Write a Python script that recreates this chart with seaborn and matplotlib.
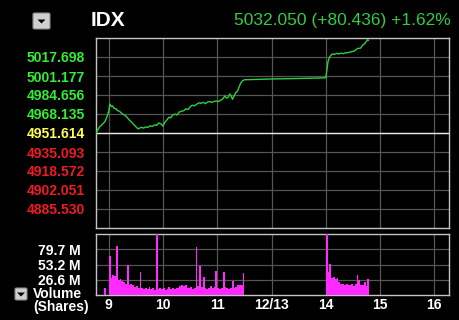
import matplotlib
matplotlib.use("Agg")
import matplotlib.pyplot as plt
import seaborn as sns
import pandas as pd
from matplotlib.patches import FancyBboxPatch, Polygon

# ---------------- data ----------------
title = "IDX"
quote_text = "5032.050 (+80.436) +1.62%"

x_tick_pos = [0, 1, 2, 3, 4, 5, 6]
x_tick_labels = ["9", "10", "11", "12/13", "14", "15", "16"]

price_tick_labels = ["5017.698", "5001.177", "4984.656", "4968.135", "4951.614",
                     "4935.093", "4918.572", "4902.051", "4885.530"]
prev_close = 4951.614

vol_tick_vals = [26.6, 53.2, 79.7]
vol_tick_labels = ["26.6 M", "53.2 M", "79.7 M"]

# time on compressed axis (hours; 0 = 9:00, 4 = 14:00)
price_t = [-0.235, -0.17, -0.11, -0.07, -0.03, 0.0, 0.02, 0.05, 0.07, 0.10, 0.13, 0.16,
           0.20, 0.24, 0.28, 0.33, 0.38, 0.44, 0.50, 0.54, 0.57, 0.61, 0.64, 0.68,
           0.72, 0.76, 0.80, 0.85, 0.88, 0.92, 0.96, 1.00, 1.03, 1.07, 1.11, 1.14,
           1.18, 1.22, 1.26, 1.30, 1.34, 1.38, 1.42, 1.46, 1.50, 1.54, 1.58, 1.62,
           1.66, 1.70, 1.74, 1.78, 1.82, 1.86, 1.90, 1.94, 1.98, 2.02, 2.06, 2.10,
           2.14, 2.17, 2.20, 2.23, 2.26, 2.28, 2.31, 2.34, 2.37, 2.40, 2.43, 2.46,
           2.49, 2.50, 3.00, 3.50, 4.00, 4.04, 4.07, 4.10, 4.12, 4.16, 4.20, 4.24,
           4.28, 4.32, 4.36, 4.40, 4.44, 4.48, 4.52, 4.56, 4.59, 4.63, 4.66, 4.68,
           4.71, 4.74, 4.76, 4.77, 4.785]
price_v = [4951.6, 4956.8, 4959.5, 4961.6, 4966.0, 4970.5, 4976.8, 4974.5, 4975.2, 4973.0, 4972.8, 4971.2,
           4970.4, 4968.6, 4967.6, 4965.6, 4962.8, 4960.2, 4957.0, 4955.2, 4955.9, 4956.6, 4955.8, 4956.9,
           4956.5, 4957.8, 4957.3, 4958.8, 4958.1, 4960.3, 4959.6, 4957.6, 4960.8, 4962.9, 4965.4, 4964.7,
           4967.4, 4968.0, 4967.3, 4969.9, 4970.6, 4971.0, 4972.6, 4972.0, 4974.4, 4975.8, 4975.2, 4976.6,
           4977.9, 4977.4, 4978.3, 4977.1, 4978.6, 4978.9, 4978.2, 4979.1, 4979.4, 4979.0, 4980.0, 4981.2,
           4983.8, 4982.0, 4982.6, 4985.5, 4983.4, 4980.9, 4983.9, 4986.7, 4987.8, 4991.5, 4994.9, 4996.8,
           4997.7, 4997.9, 4998.6, 4999.0, 4999.6, 5013.6, 5017.7, 5019.5, 5020.3, 5020.0, 5020.9, 5020.4,
           5021.0, 5020.6, 5021.3, 5021.4, 5021.9, 5022.5, 5022.8, 5024.2, 5025.3, 5025.1, 5026.6, 5028.1,
           5029.0, 5031.0, 5031.8, 5033.0, 5032.05]

# volume (millions of shares), 2-minute bars
preopen_t = [-0.087]
preopen_v = [11.8]
vol1_start = 0.0
vol1_v = [68, 30, 35, 33, 86, 26, 28, 24, 22, 20, 52, 18, 20, 17, 14, 16, 12, 41, 12, 10,
          13, 11, 14, 10, 12, 9, 108, 11, 13, 10, 12, 9, 11, 14, 10, 12, 11, 13, 12, 16,
          18, 15, 17, 13, 12, 14, 11, 13, 83, 15, 50, 14, 32, 12, 11, 13, 15, 12, 14, 42,
          13, 11, 12, 41, 14, 12, 11, 13, 25, 12, 14, 18, 17, 18, 38]
vol2_start = 4.0
vol2_v = [107, 40, 54, 30, 32, 28, 30, 22, 20, 19, 18, 20, 17, 18, 19, 16, 20, 35, 27, 18,
          17, 22, 16, 28]
bar_step = 1 / 30

# ---------------- style ----------------
sns.set_theme(style="dark")
plt.rcParams["font.family"] = ["Liberation Sans", "DejaVu Sans"]
BG = "black"
GRID = "#555555"
FRAME = "#c4c4c4"
LINE = "#2ecf3e"
MAG = "#ff2aff"

fig = plt.figure(figsize=(4.59, 3.2), dpi=100, facecolor=BG)
L, R = 96 / 459, 449 / 459
ax = fig.add_axes([L, 1 - 228 / 320, R - L, (228 - 38) / 320])
axv = fig.add_axes([L, 1 - 295 / 320, R - L, (295 - 234) / 320], sharex=ax)

for a in (ax, axv):
    a.set_facecolor(BG)
    for s in a.spines.values():
        s.set_color(FRAME)
        s.set_linewidth(1.0)
        s.set_visible(True)
    a.grid(True, color=GRID, linewidth=0.9)
    a.tick_params(length=0)

# price
df = pd.DataFrame({"t": price_t, "v": price_v})
sns.lineplot(data=df, x="t", y="v", ax=ax, color=LINE, linewidth=1.0, sort=False, zorder=3)
ax.axhline(prev_close, color="#e6e6e6", linewidth=1.0, zorder=2)
step = 16.521
ax.set_ylim(prev_close - 5 * step, prev_close + 5 * step)
ax.set_yticks([float(s) for s in price_tick_labels])
ax.set_yticklabels(price_tick_labels, fontsize=10, fontweight="bold")
ax.tick_params(axis="y", pad=8)
for lab, txt in zip(ax.get_yticklabels(), price_tick_labels):
    v = float(txt)
    if v > prev_close + 1e-6:
        lab.set_color("#33ee33")
    elif abs(v - prev_close) < 1e-6:
        lab.set_color("#ffff55")
    else:
        lab.set_color("#ee1b24")
ax.set_xlim(-0.235, 6.27)
ax.set_xticks(x_tick_pos)
ax.tick_params(axis="x", labelbottom=False)
ax.set_xlabel("")
ax.set_ylabel("")

# volume
t1 = [vol1_start + i * bar_step for i in range(len(vol1_v))]
t2 = [vol2_start + i * bar_step for i in range(len(vol2_v))]
axv.bar(preopen_t + t1 + t2, preopen_v + vol1_v + vol2_v, width=bar_step,
        align="edge", color=MAG, linewidth=0, zorder=3)
axv.set_ylim(0, 106.5)
axv.set_yticks(vol_tick_vals)
axv.set_yticklabels(vol_tick_labels, fontsize=10, fontweight="bold", color="white")
axv.tick_params(axis="y", pad=11)
axv.set_xticks(x_tick_pos)
axv.set_xticklabels(x_tick_labels, fontsize=10, fontweight="bold", color="white")
axv.tick_params(axis="x", pad=2)

# header
fig.text(91 / 459, 1 - 20 / 320, title, color="white", fontsize=15, fontweight="bold",
         ha="left", va="center")
fig.text(451 / 459, 1 - 20 / 320, quote_text, color="#33cc44", fontsize=12.5,
         ha="right", va="center")


def dropdown(x0, y0, w, h):
    fx, fy = x0 / 459, 1 - (y0 + h) / 320
    fw, fh = w / 459, h / 320
    fig.patches.append(FancyBboxPatch((fx, fy), fw, fh, boxstyle="round,pad=0,rounding_size=0.004",
                                      transform=fig.transFigure, facecolor="#cfcfcf",
                                      edgecolor="#8a8a8a", linewidth=0.8))
    cx, cy = x0 + w / 2, y0 + h / 2
    tri = [((cx - 4) / 459, 1 - (cy - 1.5) / 320), ((cx + 4) / 459, 1 - (cy - 1.5) / 320),
           (cx / 459, 1 - (cy + 2.5) / 320)]
    fig.patches.append(Polygon(tri, closed=True, transform=fig.transFigure,
                               facecolor="black", edgecolor="none"))


dropdown(33, 13, 17, 16)
dropdown(15, 288, 12, 12)

fig.text(33 / 459, 1 - 294 / 320, "Volume", color="white", fontsize=10,
         fontweight="bold", ha="left", va="center")
fig.text(33 / 459, 1 - 306.5 / 320, "(Shares)", color="white", fontsize=10,
         fontweight="bold", ha="left", va="center")

fig.savefig("out.png", dpi=100, facecolor=BG)
